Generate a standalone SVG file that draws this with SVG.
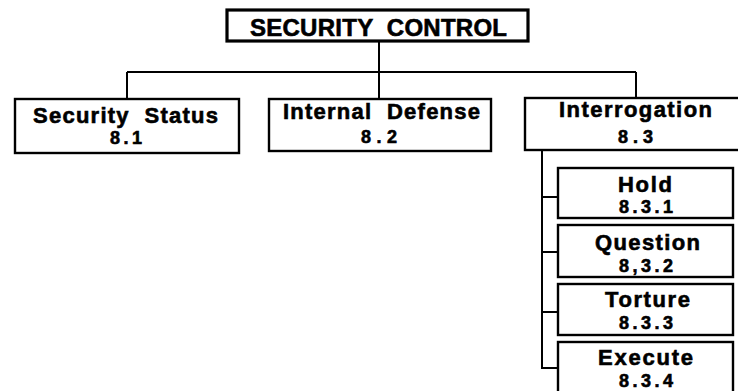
<svg xmlns="http://www.w3.org/2000/svg" width="738" height="391" viewBox="0 0 738 391">
  <style>
    .box { fill: #ffffff; stroke: #000000; stroke-width: 2.4; }
    .root { fill: #ffffff; stroke: #000000; stroke-width: 3.2; }
    .wire { fill: none; stroke: #000000; stroke-width: 2; }
    text { font-family: "Liberation Sans", Arial, Helvetica, sans-serif; font-weight: bold; fill: #000000; stroke: #000000; stroke-width: 0.6; text-anchor: middle; white-space: pre; }
    .t0 { font-size: 24px; }
    .t1 { font-size: 22px; }
    .t2 { font-size: 18px; }
  </style>

  <!-- connectors -->
  <g id="connectors">
    <path class="wire" d="M379 41 V98"/>
    <path class="wire" d="M127 72 H636"/>
    <path class="wire" d="M127 72 V99"/>
    <path class="wire" d="M636 72 V97"/>
    <path class="wire" d="M542 150 V368 H558"/>
    <path class="wire" d="M542 197 H558"/>
    <path class="wire" d="M542 252 H558"/>
    <path class="wire" d="M542 312 H558"/>
  </g>

  <!-- top level -->
  <g id="security-control">
    <rect class="root" x="227" y="10" width="301" height="31"/>
    <text class="t0" x="378.5" y="36" textLength="257" lengthAdjust="spacing" xml:space="preserve">SECURITY  CONTROL</text>
  </g>

  <!-- second level -->
  <g id="security-status">
    <rect class="box" x="15" y="99" width="224" height="54"/>
    <text class="t1" x="125.5" y="123" textLength="185" lengthAdjust="spacing" xml:space="preserve">Security  Status</text>
    <text class="t2" x="126" y="144" textLength="32" lengthAdjust="spacing">8.1</text>
  </g>

  <g id="internal-defense">
    <rect class="box" x="269" y="99" width="222" height="52"/>
    <text class="t1" x="381.5" y="119" textLength="197" lengthAdjust="spacing" xml:space="preserve">Internal  Defense</text>
    <text class="t2" x="379" y="143" textLength="36" lengthAdjust="spacing">8.2</text>
  </g>

  <g id="interrogation">
    <rect class="box" x="525" y="98" width="225" height="52"/>
    <text class="t1" x="635.5" y="117" textLength="153" lengthAdjust="spacing">Interrogation</text>
    <text class="t2" x="635.5" y="143" textLength="35" lengthAdjust="spacing">8.3</text>
  </g>

  <!-- third level -->
  <g id="hold">
    <rect class="box" x="558" y="168" width="175" height="50"/>
    <text class="t1" x="645" y="192" textLength="54" lengthAdjust="spacing">Hold</text>
    <text class="t2" x="646" y="213" textLength="54" lengthAdjust="spacing">8.3.1</text>
  </g>

  <g id="question">
    <rect class="box" x="558" y="225" width="175" height="52"/>
    <text class="t1" x="647.5" y="250" textLength="105" lengthAdjust="spacing">Question</text>
    <text class="t2" x="646" y="272" textLength="54" lengthAdjust="spacing">8,3.2</text>
  </g>

  <g id="torture">
    <rect class="box" x="558" y="284" width="175" height="51"/>
    <text class="t1" x="647.5" y="307" textLength="85" lengthAdjust="spacing">Torture</text>
    <text class="t2" x="646" y="329" textLength="54" lengthAdjust="spacing">8.3.3</text>
  </g>

  <g id="execute">
    <rect class="box" x="558" y="342" width="175" height="54"/>
    <text class="t1" x="645.5" y="365" textLength="95" lengthAdjust="spacing">Execute</text>
    <text class="t2" x="646" y="387" textLength="54" lengthAdjust="spacing">8.3.4</text>
  </g>
</svg>
